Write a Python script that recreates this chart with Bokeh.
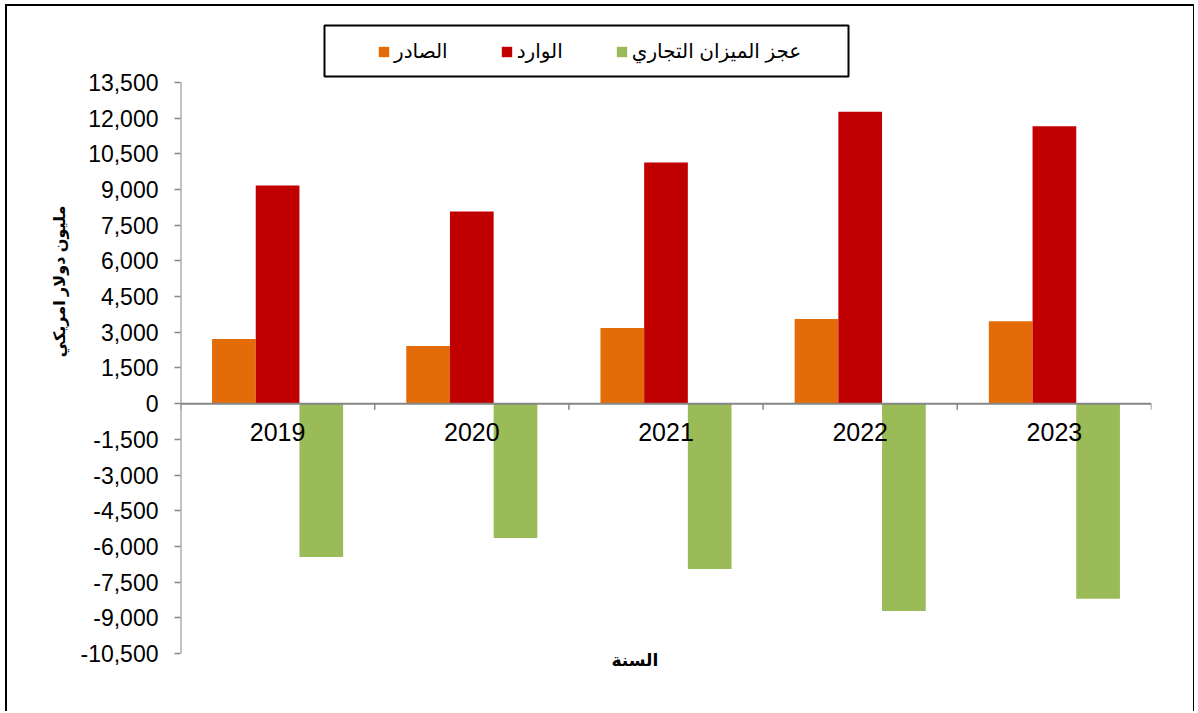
import math
from bokeh.plotting import figure
from bokeh.models import (ColumnDataSource, FactorRange, FixedTicker, NumeralTickFormatter,
                          Legend, LegendItem, Title, Span, BoxAnnotation)
from bokeh.transform import dodge
from bokeh.core.properties import value
from bokeh.embed import file_html
from bokeh.resources import INLINE

years = ["2019", "2020", "2021", "2022", "2023"]
exports = [2720, 2420, 3180, 3560, 3460]
imports = [9170, 8070, 10130, 12270, 11660]
deficit = [-6450, -5650, -6950, -8710, -8200]
y_ticks = [-10500, -9000, -7500, -6000, -4500, -3000, -1500, 0,
           1500, 3000, 4500, 6000, 7500, 9000, 10500, 12000, 13500]

label_exports = "الصادر"
label_imports = "الوارد"
label_deficit = "عجز الميزان التجاري"
y_title = "مليون دولار امريكي"
x_title = "السنة"

NUM_FONT = "Liberation Sans"
AR_FONT = "Liberation Sans, DejaVu Sans"

Y_MIN, Y_MAX = y_ticks[0], y_ticks[-1]

src = ColumnDataSource(dict(year=years, exports=exports, imports=imports, deficit=deficit))

# the frame extends above the top tick so that the legend can sit inside it
p = figure(x_range=FactorRange(*years), y_range=(Y_MIN, 16100),
           width=1189, height=707, output_backend="svg", toolbar_location=None,
           x_axis_location=None,
           min_border_left=173, min_border_right=45, min_border_top=14, min_border_bottom=60,
           styles={"margin-left": "5px", "margin-top": "4px",
                   "border-left": "2px solid black", "border-top": "2px solid black",
                   "border-right": "1px solid black"})
p.background_fill_color = "white"
p.border_fill_color = "white"
p.outline_line_color = None
p.xgrid.grid_line_color = None
p.ygrid.grid_line_color = None

W = 0.225
r_exp = p.vbar(x=dodge("year", -W, range=p.x_range), top="exports", width=W, source=src,
               fill_color="#E36C09", line_color=None)
r_imp = p.vbar(x=dodge("year", 0.0, range=p.x_range), top="imports", width=W, source=src,
               fill_color="#C00000", line_color=None)
r_def = p.vbar(x=dodge("year", W, range=p.x_range), top="deficit", width=W, source=src,
               fill_color="#9BBB59", line_color=None)

# y axis (line drawn only over the tick span)
ya = p.yaxis[0]
ya.ticker = FixedTicker(ticks=y_ticks)
ya.formatter = NumeralTickFormatter(format="0,0")
ya.axis_line_color = None
ya.major_tick_line_color = "#868686"
ya.major_tick_line_width = 1.5
ya.major_tick_out = 6
ya.major_tick_in = 0
ya.minor_tick_line_color = None
ya.major_label_text_font = NUM_FONT
ya.major_label_text_font_size = "23px"
ya.major_label_text_color = "black"
ya.major_label_standoff = 16
left_edge = [(years[0], -0.5)]
p.segment(x0=left_edge, x1=left_edge, y0=[Y_MIN], y1=[Y_MAX],
          line_color="#868686", line_width=2)

# category axis along zero
p.add_layout(Span(location=0, dimension="width", line_color="#868686", line_width=2))
bx = [(y, -0.5) for y in years] + [(years[-1], 0.5)]
p.segment(x0=bx, x1=bx, y0=[0] * len(bx), y1=[-260] * len(bx),
          line_color="#868686", line_width=1.5)
p.text(x=years, y=[0] * len(years), text=years, y_offset=28,
       text_align="center", text_baseline="middle",
       text_font=value(NUM_FONT), text_font_size="25px", text_color="black")

# legend (box drawn as a separate frame annotation)
p.add_layout(BoxAnnotation(left=144, right=668, bottom=577, top=628,
                           left_units="screen", right_units="screen",
                           bottom_units="screen", top_units="screen",
                           fill_color="white", fill_alpha=1.0,
                           line_color="black", line_alpha=1.0, line_width=2))
legend = Legend(items=[LegendItem(label=label_exports, renderers=[r_exp]),
                       LegendItem(label=label_imports, renderers=[r_imp]),
                       LegendItem(label=label_deficit, renderers=[r_def])],
                orientation="horizontal", location=(197, 590))
legend.border_line_color = None
legend.background_fill_alpha = 0
legend.label_text_font = AR_FONT
legend.label_text_font_size = "20px"
legend.label_text_color = "black"
legend.glyph_width = 13
legend.glyph_height = 13
legend.label_standoff = 4
legend.spacing = 52
legend.padding = 12
legend.margin = 0
p.add_layout(legend, "center")

# axis titles
p.add_layout(Title(text=y_title, align="right", offset=185, vertical_align="middle",
                   text_font=AR_FONT, text_font_size="16px", text_font_style="bold",
                   text_color="black", standoff=18), "left")
p.add_layout(Title(text=x_title, align="left", offset=431, vertical_align="top",
                   text_font=AR_FONT, text_font_size="17px", text_font_style="bold",
                   text_color="black", standoff=-6), "below")

open("out.html", "w").write(file_html(p, INLINE))
